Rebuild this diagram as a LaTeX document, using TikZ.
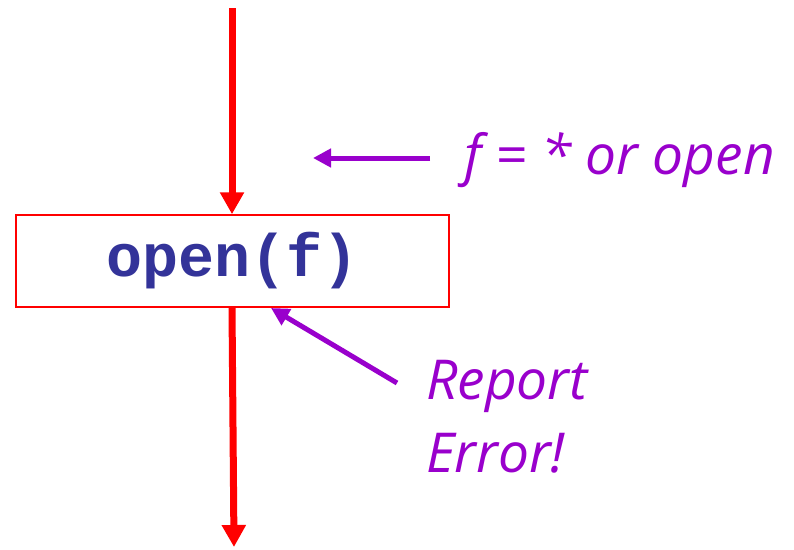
\documentclass[tikz,border=0pt]{standalone}
\usepackage{fontspec}
\setmainfont{Open Sans}
\setmonofont{Liberation Mono}
\usetikzlibrary{arrows.meta,positioning}
\definecolor{flowred}{RGB}{255,0,0}
\definecolor{notepurple}{RGB}{153,0,204}
\definecolor{codeblue}{RGB}{51,51,153}

\begin{document}
\begin{tikzpicture}[x=1pt, y=-1pt,
  callbox/.style={draw=flowred,line width=1.5pt,minimum width=433pt,minimum height=92pt,inner sep=0pt,
    font=\fontsize{60}{60}\selectfont\ttfamily\bfseries,text=codeblue},
  flow/.style={draw=flowred,line width=7pt,-{Triangle[length=22pt,width=23pt]}},
  note/.style={draw=notepurple,line width=5pt,-{Triangle[length=18pt,width=18pt]}},
  notetext/.style={text=notepurple,font=\fontsize{55}{73}\selectfont\itshape,inner sep=0pt,align=left}]
\useasboundingbox (0,0) rectangle (794,549);
\node[callbox] (openbox) at (232.5,261) {open(f)};
\coordinate (entry) at (232,8);
\coordinate (exit) at (234,547);
\draw[flow] (entry) -- (openbox.north -| entry);
\draw[flow] (openbox.south -| entry) -- (exit);
% notes on the right
\node[notetext,anchor=west] (fnote) at (464,160) {f = * or open};
\coordinate (ftail) at (430,158);
\coordinate (fhead) at (313,158);
\draw[note] (ftail) -- (fhead);
\node[notetext,anchor=north west] (errnote) at (426,360) {Report\\Error!};
\coordinate (etail) at (397,383);
\coordinate (ehead) at (271,308);
\draw[note] (etail) -- (ehead);
\end{tikzpicture}
\end{document}
